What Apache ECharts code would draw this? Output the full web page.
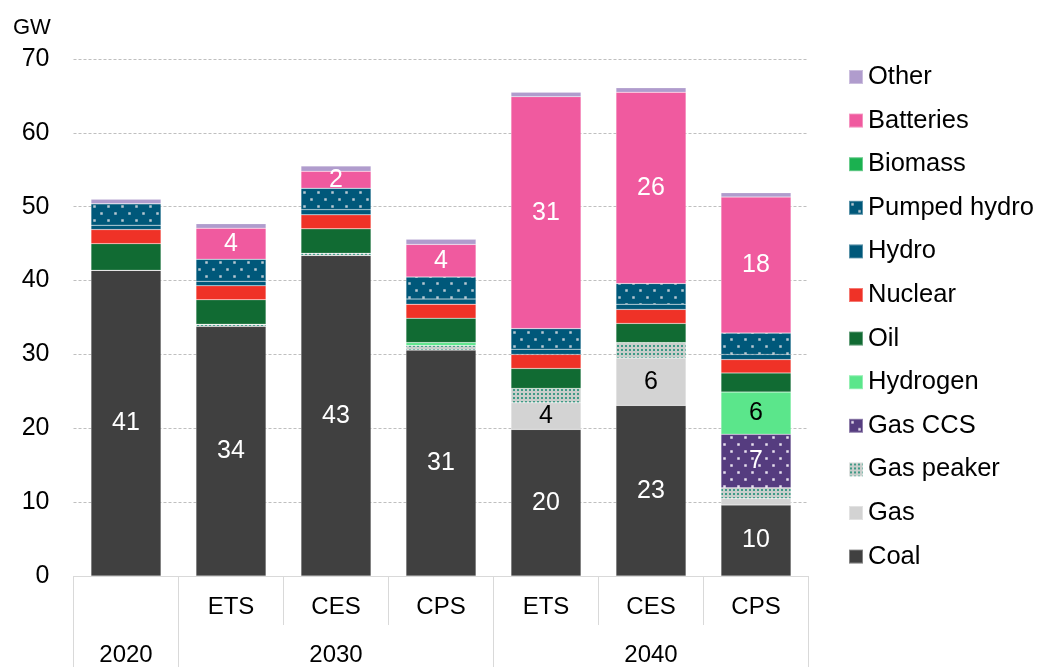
<!DOCTYPE html>
<html>
<head>
<meta charset="utf-8">
<script src="https://cdn.jsdelivr.net/npm/echarts@6/dist/echarts.min.js"></script>
<style>
  html, body { margin: 0; padding: 0; background: #fff; }
  #chart { width: 1040px; height: 667px; }
</style>
</head>
<body>
<div id="chart"></div>
<script>
// 数据
const scenarios = ['', 'ETS', 'CES', 'CPS', 'ETS', 'CES', 'CPS'];
const groupLabels = ['2020', '', '2030', '', '', '2040', ''];
const groupKeys = ['g0', 'g1', 'g2', 'g3', 'g4', 'g5', 'g6'];

const coal       = [41.4, 33.8, 43.4, 30.6, 19.85, 23.1, 9.6];
const gas        = [0, 0, 0, 0, 3.6, 6.4, 0.9];
const gasPeaker  = [0, 0.3, 0.3, 0.6, 1.95, 2.1, 1.45];
const gasCCS     = [0, 0, 0, 0, 0, 0, 7.25];
const hydrogen   = [0, 0, 0, 0.4, 0, 0, 5.7];
const oil        = [3.6, 3.3, 3.3, 3.3, 2.7, 2.6, 2.6];
const nuclear    = [1.9, 1.9, 1.9, 1.9, 1.9, 1.9, 1.8];
const hydro      = [0.6, 0.6, 0.7, 0.7, 0.7, 0.7, 0.7];
const pumped     = [2.9, 3.0, 2.9, 3.0, 2.8, 2.8, 2.9];
const biomass    = [0, 0, 0, 0, 0, 0, 0];
const batteries  = [0, 4.2, 2.3, 4.4, 31.4, 25.9, 18.4];
const other      = [0.6, 0.6, 0.7, 0.7, 0.6, 0.6, 0.6];

const yTicks = [0, 10, 20, 30, 40, 50, 60, 70];

(function(){
    const font = 'Liberation Sans, Arial, sans-serif';

    // 点状填充
    function dots(bg, dot, step, r, stagger) {
        const c = document.createElement('canvas');
        c.width = step * 2; c.height = step * 2;
        const ctx = c.getContext('2d');
        ctx.fillStyle = bg;
        ctx.fillRect(0, 0, c.width, c.height);
        ctx.fillStyle = dot;
        const pts = stagger
            ? [[0, 0], [step, step]]
            : [[0, 0], [step, 0], [0, step], [step, step]];
        pts.forEach(function(p){
            ctx.fillRect(p[0] + step / 2 - r / 2, p[1] + step / 2 - r / 2, r, r);
        });
        return { image: c, repeat: 'repeat' };
    }

    const myChart = echarts.init(document.getElementById('chart'));

    function lbl(color) {
        return {
            show: true,
            color: color,
            fontSize: 25,
            fontFamily: font,
            formatter: function(p){ return p.value >= 2 ? Math.round(p.value) : ''; }
        };
    }

    const defs = [
        { name: 'Coal', data: coal, color: '#404040', label: lbl('#fff') },
        { name: 'Gas', data: gas, color: '#d3d3d3', label: lbl('#000') },
        { name: 'Gas peaker', data: gasPeaker, color: dots('#c9cfcc', '#3f9a86', 4, 2, false) },
        { name: 'Gas CCS', data: gasCCS, color: dots('#553c7f', '#e6e0ee', 7, 2.5, true), label: lbl('#fff') },
        { name: 'Hydrogen', data: hydrogen, color: '#5be68b', label: lbl('#000') },
        { name: 'Oil', data: oil, color: '#116b33' },
        { name: 'Nuclear', data: nuclear, color: '#ef3227' },
        { name: 'Hydro', data: hydro, color: '#00587a' },
        { name: 'Pumped hydro', data: pumped, color: dots('#00587a', '#b8c8d2', 7, 2.5, true) },
        { name: 'Biomass', data: biomass, color: '#1bb150' },
        { name: 'Batteries', data: batteries, color: '#f05a9f', label: lbl('#fff') },
        { name: 'Other', data: other, color: '#b09ccd' }
    ];

    const series = defs.map(function(d){
        return {
            name: d.name,
            type: 'bar',
            stack: 'total',
            barWidth: 70,
            data: d.data,
            itemStyle: { color: d.color, borderColor: 'rgba(255,255,255,0.35)', borderWidth: 0.5 },
            label: d.label || { show: false },
            emphasis: { disabled: true }
        };
    });

    const option = {
        animation: false,
        textStyle: { fontFamily: font },
        title: {
            text: 'GW',
            left: 8,
            top: 12,
            textStyle: { fontSize: 22, fontWeight: 'normal', color: '#000', fontFamily: font }
        },
        legend: {
            orient: 'vertical',
            left: 843,
            top: 59,
            itemWidth: 14,
            itemHeight: 14,
            itemGap: 17.6,
            icon: 'rect',
            textStyle: { fontSize: 25.5, color: '#000', fontFamily: font },
            data: defs.map(function(d){ return d.name; }).reverse()
        },
        grid: {
            left: 73.5,
            right: 1040 - 808.5,
            top: 59,
            bottom: 91,
            containLabel: false
        },
        xAxis: [
            {
                type: 'category',
                data: scenarios,
                position: 'bottom',
                axisLine: { show: true, lineStyle: { color: '#d9d9d9' } },
                axisTick: { show: true, length: 49, interval: 0, lineStyle: { color: '#d9d9d9' } },
                axisLabel: { interval: 0, fontSize: 24, color: '#000', margin: 19, fontFamily: font }
            },
            {
                type: 'category',
                data: groupKeys,
                position: 'bottom',
                axisLine: { show: false },
                axisTick: {
                    show: true, length: 91,
                    interval: function(i){ return i === 0 || i === 1 || i === 4; },
                    lineStyle: { color: '#d9d9d9' }
                },
                axisLabel: {
                    interval: 0, fontSize: 24, color: '#000', margin: 67, fontFamily: font,
                    formatter: function(v, i){ return groupLabels[i]; }
                }
            }
        ],
        yAxis: {
            type: 'value',
            min: yTicks[0],
            max: yTicks[yTicks.length - 1],
            interval: 10,
            axisLine: { show: false },
            axisTick: { show: false },
            axisLabel: { fontSize: 25, color: '#000', margin: 24, fontFamily: font },
            splitLine: { lineStyle: { color: '#bfbfbf', type: [3, 2] } }
        },
        series: series
    };

    myChart.setOption(option);

    window.addEventListener('resize', function() {
        myChart.resize();
    });
})();
</script>
</body>
</html>
